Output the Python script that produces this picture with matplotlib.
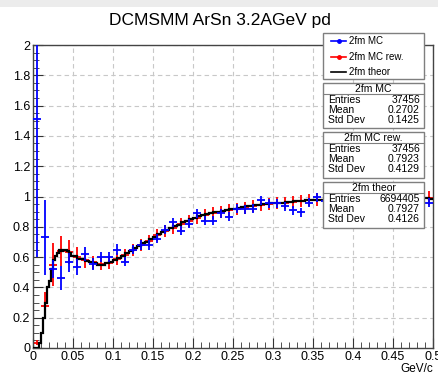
import numpy as np
import matplotlib
matplotlib.use("Agg")
import matplotlib.pyplot as plt
from matplotlib.patches import Rectangle
from matplotlib.lines import Line2D

plt.rcParams['font.family'] = ['Liberation Sans', 'DejaVu Sans']

# 50 bins of 0.01 GeV/c for the MC histograms
mc_centers = np.arange(50) * 0.01 + 0.005

mc_vals = [1.51, 0.73, 0.52, 0.46, 0.565, 0.535, 0.62, 0.555, 0.60, 0.60,
           0.65, 0.57, 0.65, 0.68, 0.68, 0.72, 0.78, 0.83, 0.775, 0.82,
           0.89, 0.84, 0.84, 0.89, 0.865, 0.92, 0.915, 0.92, 0.975, 0.955,
           0.955, 0.935, 0.91, 0.895, 0.96, 0.995, 0.97, 1.00, 0.96, 0.98,
           1.01, 0.97, 0.99, 0.95, 1.00, 0.98, 0.97, 1.00, 0.99, 0.96]
mc_errs = [0.91, 0.25, 0.06, 0.08, 0.065, 0.05, 0.045, 0.04, 0.035, 0.035,
           0.035, 0.03, 0.03, 0.03, 0.03, 0.03, 0.03, 0.03, 0.03, 0.03,
           0.03, 0.03, 0.03, 0.03, 0.03, 0.03, 0.03, 0.03, 0.03, 0.03,
           0.03, 0.03, 0.03, 0.03, 0.03, 0.03, 0.03, 0.03, 0.03, 0.03,
           0.03, 0.03, 0.03, 0.03, 0.03, 0.03, 0.03, 0.03, 0.03, 0.03]

rew_vals = [0.035, 0.28, 0.55, 0.64, 0.635, 0.60, 0.58, 0.565, 0.555, 0.56,
            0.585, 0.615, 0.645, 0.68, 0.705, 0.745, 0.77, 0.795, 0.82, 0.84,
            0.86, 0.875, 0.89, 0.90, 0.91, 0.92, 0.925, 0.935, 0.945, 0.95,
            0.955, 0.96, 0.965, 0.97, 0.975, 0.98, 0.98, 0.985, 0.985, 0.99,
            0.985, 0.99, 0.99, 0.985, 0.99, 0.99, 0.99, 0.99, 0.99, 0.99]
rew_errs = [0.015, 0.09, 0.14, 0.10, 0.08, 0.068, 0.05, 0.045, 0.04, 0.04,
            0.04, 0.04, 0.04, 0.04, 0.04, 0.04, 0.04, 0.04, 0.04, 0.04,
            0.04, 0.04, 0.04, 0.04, 0.04, 0.04, 0.04, 0.04, 0.04, 0.04,
            0.04, 0.04, 0.04, 0.04, 0.04, 0.04, 0.04, 0.04, 0.04, 0.04,
            0.04, 0.04, 0.04, 0.04, 0.04, 0.04, 0.04, 0.04, 0.04, 0.045]

# theoretical spectrum: fine bins below 0.05, 0.005 above
theor_edges = np.concatenate([np.arange(0, 0.05, 0.0025), np.arange(0.05, 0.5001, 0.005)])
theor_vals = [0.0, 0.0, 0.0, 0.03, 0.10, 0.20, 0.30, 0.40, 0.44, 0.52,
              0.58, 0.61, 0.63, 0.645, 0.64, 0.65, 0.645, 0.64, 0.625, 0.61,
              0.605, 0.59, 0.585, 0.575, 0.57, 0.56, 0.545, 0.55, 0.56, 0.565,
              0.578, 0.595, 0.61, 0.625, 0.64, 0.657, 0.67, 0.69, 0.70, 0.72,
              0.735, 0.75, 0.767, 0.78, 0.79, 0.805, 0.815, 0.83, 0.84, 0.852,
              0.86, 0.87, 0.877, 0.885, 0.89, 0.897, 0.90, 0.905, 0.91, 0.917,
              0.92, 0.927, 0.93, 0.935, 0.94, 0.942, 0.945, 0.95, 0.95, 0.955,
              0.955, 0.96, 0.96, 0.965, 0.965, 0.97, 0.97, 0.972, 0.975, 0.975,
              0.977, 0.98, 0.98, 0.98, 0.98, 0.985, 0.985, 0.985, 0.985, 0.99,
              0.985, 0.99, 0.99, 0.985, 0.99, 0.99, 0.99, 0.99, 0.99, 0.985,
              0.99, 0.99, 0.99, 0.99, 0.99, 0.99, 0.99, 0.99, 0.99, 0.985]

stats = [("2fm MC", "37456", "0.2702", "0.1425"),
         ("2fm MC rew.", "37456", "0.7923", "0.4129"),
         ("2fm theor", "6694405", "0.7927", "0.4126")]

W, H = 438, 374
fig = plt.figure(figsize=(W / 100, H / 100), dpi=100)


def fx(px):
    return px / W


def fy(py):
    return 1 - py / H


# light band along the top of the canvas
fig.add_artist(Rectangle((0, fy(7)), 1, 7 / H, transform=fig.transFigure,
                         facecolor='#ececec', edgecolor='none'))

ax = fig.add_axes([fx(33), fy(348), fx(433) - fx(33), fy(45) - fy(348)])

ax.errorbar(mc_centers, rew_vals, xerr=0.005, yerr=rew_errs, fmt='none',
            ecolor='#ff0000', elinewidth=1.3, zorder=2)
ax.stairs(theor_vals, theor_edges, baseline=None, color='black', lw=1.6,
          zorder=3)
ax.errorbar(mc_centers, mc_vals, xerr=0.005, yerr=mc_errs, fmt='none',
            ecolor='#0000ff', elinewidth=1.3, zorder=4)

ax.set_xlim(0, 0.5)
ax.set_ylim(0, 2)
ax.set_xticks(np.arange(0, 0.51, 0.05))
ax.set_xticklabels(['0', '0.05', '0.1', '0.15', '0.2', '0.25', '0.3', '0.35',
                    '0.4', '0.45', '0.5'])
ax.set_xticks(np.arange(0, 0.501, 0.01), minor=True)
ax.set_yticks(np.arange(0, 2.01, 0.2))
ax.set_yticklabels(['0', '0.2', '0.4', '0.6', '0.8', '1', '1.2', '1.4', '1.6',
                    '1.8', '2'])
ax.set_yticks(np.arange(0, 2.001, 0.05), minor=True)
ax.tick_params(which='both', direction='in', labelsize=9, color='#333333',
               pad=2)
ax.tick_params(which='major', length=7)
ax.tick_params(which='minor', length=4)
ax.grid(True, which='major', color='#c8c8c8', ls=(0, (4, 3)), lw=0.8)
for s in ax.spines.values():
    s.set_color('#444444')
    s.set_linewidth(1.0)

fig.text(fx(433), fy(369), 'GeV/c', ha='right', va='center', fontsize=8.5)
fig.text(fx(220), fy(20), 'DCMSMM ArSn 3.2AGeV pd', ha='center', va='center',
         fontsize=12.5)

# legend box
def box(x0, y0, x1, y1):
    fig.add_artist(Rectangle((fx(x0), fy(y1)), fx(x1) - fx(x0), fy(y0) - fy(y1),
                             transform=fig.transFigure, facecolor='white',
                             edgecolor='#7f7f7f', lw=1.0, zorder=10))


box(323, 33, 424, 79)
leg_rows = [("2fm MC", '#0000ff', True), ("2fm MC rew.", '#ff0000', True),
            ("2fm theor", 'black', False)]
for i, (lab, col, cross) in enumerate(leg_rows):
    yy = 41 + i * 15.5
    fig.add_artist(Line2D([fx(331), fx(346)], [fy(yy), fy(yy)], color=col,
                          lw=1.2, transform=fig.transFigure, zorder=11))
    if cross:
        fig.add_artist(Line2D([fx(338.5)], [fy(yy)], marker='o', ms=2.5,
                              color=col, transform=fig.transFigure, zorder=11))
    fig.text(fx(349), fy(yy), lab, ha='left', va='center', fontsize=7,
             zorder=12)

# statistics boxes
tops = [83, 132, 182]
for top, (name, ent, mean, std) in zip(tops, stats):
    box(323, top, 424, top + 45.5)
    fig.add_artist(Line2D([fx(323), fx(424)], [fy(top + 11), fy(top + 11)],
                          color='#7f7f7f', lw=0.8, transform=fig.transFigure,
                          zorder=11))
    fig.text(fx(373.5), fy(top + 5.8), name, ha='center', va='center',
             fontsize=7.5, zorder=12)
    for j, (k, v) in enumerate([("Entries", ent), ("Mean", mean),
                                ("Std Dev", std)]):
        yy = top + 17 + j * 10.2
        fig.text(fx(328), fy(yy), k, ha='left', va='center', fontsize=7.5,
                 zorder=12)
        fig.text(fx(420), fy(yy), v, ha='right', va='center', fontsize=7.5,
                 zorder=12)

fig.savefig('out.png', dpi=100)
